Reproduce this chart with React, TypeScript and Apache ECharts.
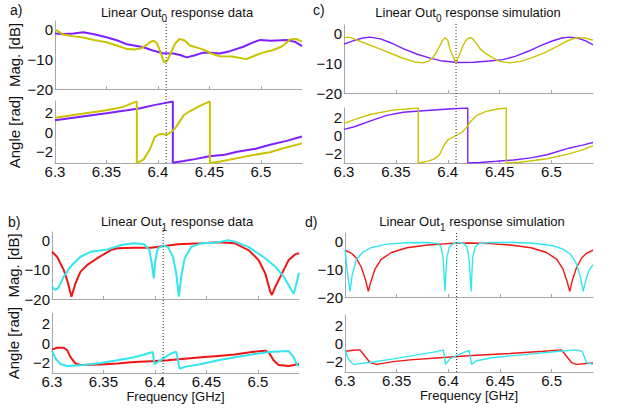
import React, { useEffect, useRef } from 'react';
import * as echarts from 'echarts';

// ---------- axis definitions ----------
const FREQ_MIN = 6.3;
const FREQ_MAX = 6.54;
const FREQ_TICKS = [6.3, 6.35, 6.4, 6.45, 6.5];
const MAG_MIN = -20;
const MAG_MAX = 3;
const MAG_TICKS = [-20, -10, 0];
const ANGLE_TICKS = [-2, 0, 2];
const MARKER_FREQ = 6.408;

// ---------- a) Linear Out0 response data ----------
const A_MAG_PURPLE = [[6.300,-1.2],[6.308,-1.4],[6.318,-1.2],[6.3275,-0.8],[6.338,-1.5],[6.35,-2.5],[6.36,-3.5],[6.37,-4.9],[6.386,-5.9],[6.395,-7.0],[6.405,-7.9],[6.415,-8.0],[6.4216,-8.5],[6.428,-9.3],[6.436,-8.6],[6.444,-7.7],[6.452,-7.7],[6.46,-8.0],[6.47,-7.2],[6.483,-5.7],[6.492,-4.3],[6.4994,-3.4],[6.51,-3.7],[6.525,-3.4],[6.533,-4.0],[6.54,-5.5]];
const A_MAG_YELLOW = [[6.300,0.2],[6.308,-1.6],[6.318,-2.2],[6.3275,-2.6],[6.338,-3.4],[6.35,-4.2],[6.36,-5.3],[6.37,-6.5],[6.378,-6.6],[6.384,-6.2],[6.389,-5.1],[6.393,-4.0],[6.396,-3.7],[6.399,-4.5],[6.402,-7.0],[6.406,-11.0],[6.409,-10.5],[6.413,-7.5],[6.417,-4.5],[6.421,-3.1],[6.426,-3.6],[6.431,-5.3],[6.443,-6.5],[6.452,-8.0],[6.46,-8.9],[6.472,-9.0],[6.486,-9.9],[6.495,-8.6],[6.502,-7.7],[6.512,-6.8],[6.52,-5.7],[6.529,-3.2],[6.535,-3.1],[6.54,-4.0]];
const A_ANG_PURPLE = [[6.300,1.2],[6.325,1.55],[6.35,1.9],[6.37,2.2],[6.383,2.4],[6.395,2.7],[6.405,2.9],[6.4145,3.08],[6.4145,-3.12],[6.425,-2.95],[6.436,-2.75],[6.45,-2.45],[6.465,-2.3],[6.477,-2.0],[6.495,-1.7],[6.509,-1.3],[6.525,-0.9],[6.54,-0.45]];
const A_ANG_YELLOW = [[6.300,1.45],[6.32,1.75],[6.35,2.2],[6.365,2.5],[6.3795,3.1],[6.3795,-3.13],[6.386,-2.8],[6.392,-1.8],[6.397,-0.5],[6.402,-0.2],[6.409,-0.25],[6.413,0.0],[6.417,0.4],[6.422,1.2],[6.425,1.7],[6.431,2.1],[6.438,2.5],[6.444,2.8],[6.4505,3.1],[6.4505,-3.13],[6.4605,-3.0],[6.475,-2.7],[6.4926,-2.33],[6.509,-2.06],[6.52,-1.7],[6.54,-1.15]];

// ---------- c) Linear Out0 response simulation ----------
const C_MAG_PURPLE = [[6.300,-3.5],[6.310,-2.2],[6.318,-1.4],[6.325,-1.1],[6.335,-1.7],[6.345,-3.0],[6.357,-5.0],[6.370,-6.8],[6.383,-8.2],[6.395,-9.2],[6.410,-9.7],[6.425,-9.6],[6.440,-9.2],[6.453,-8.7],[6.465,-7.6],[6.478,-5.8],[6.490,-3.9],[6.500,-2.5],[6.510,-1.4],[6.517,-1.1],[6.525,-1.4],[6.533,-2.4],[6.540,-3.7]];
const C_MAG_YELLOW = [[6.300,-1.2],[6.306,-1.2],[6.312,-2.0],[6.325,-3.8],[6.341,-6.0],[6.355,-8.0],[6.368,-9.5],[6.376,-9.8],[6.382,-9.2],[6.386,-7.8],[6.389,-6.3],[6.392,-4.3],[6.395,-2.2],[6.3975,-1.3],[6.400,-2.2],[6.402,-5.0],[6.405,-7.6],[6.408,-9.8],[6.411,-7.2],[6.414,-4.6],[6.417,-2.5],[6.4195,-1.5],[6.4225,-1.3],[6.425,-2.0],[6.428,-3.5],[6.431,-5.0],[6.437,-6.8],[6.443,-8.0],[6.450,-9.3],[6.460,-9.8],[6.470,-9.3],[6.480,-8.2],[6.493,-6.4],[6.505,-4.3],[6.515,-2.4],[6.524,-1.3],[6.532,-1.4],[6.540,-2.1]];
const C_ANG_PURPLE = [[6.300,0.7],[6.310,1.0],[6.325,1.64],[6.341,2.3],[6.357,2.65],[6.373,2.8],[6.390,2.95],[6.405,3.05],[6.4193,3.14],[6.4193,-3.14],[6.431,-3.08],[6.447,-2.95],[6.4634,-2.8],[6.48,-2.55],[6.4957,-2.2],[6.5166,-1.45],[6.53,-1.1],[6.54,-0.8]];
const C_ANG_YELLOW = [[6.300,1.38],[6.312,1.9],[6.325,2.4],[6.347,2.9],[6.3716,3.14],[6.3716,-3.14],[6.380,-2.95],[6.387,-2.7],[6.392,-2.2],[6.396,-1.2],[6.400,-0.5],[6.408,0.0],[6.414,0.4],[6.418,0.9],[6.422,1.6],[6.428,2.3],[6.437,2.75],[6.447,3.0],[6.4564,3.14],[6.4564,-3.14],[6.470,-3.05],[6.4957,-2.65],[6.5166,-2.1],[6.53,-1.65],[6.54,-1.15]];

// ---------- b) Linear Out1 response data ----------
const B_MAG_RED = [[6.300,-3.8],[6.3049,-5.5],[6.3114,-10],[6.3147,-13.5],[6.3189,-19.2],[6.3228,-14.6],[6.3277,-10.6],[6.3343,-8.3],[6.344,-6],[6.3571,-3.2],[6.3636,-2.6],[6.3799,-2.4],[6.3962,-2.4],[6.4093,-1.8],[6.4223,-1.2],[6.4452,-0.9],[6.4615,-0.5],[6.4778,-0.9],[6.4909,-3.2],[6.5007,-6.6],[6.5072,-11.2],[6.5121,-17.5],[6.5137,-18.6],[6.517,-15.8],[6.5235,-11.2],[6.53,-6.6],[6.5365,-4.6],[6.54,-4.3]];
const B_MAG_CYAN = [[6.300,-15.8],[6.3033,-16.9],[6.3065,-16],[6.3114,-12.3],[6.3179,-8.9],[6.3277,-5.5],[6.3375,-3.8],[6.3538,-3.0],[6.3669,-1.5],[6.3799,-0.9],[6.3897,-1.2],[6.3946,-3.2],[6.3969,-7.8],[6.3989,-12.9],[6.4005,-6.6],[6.4028,-2.6],[6.4077,-1.7],[6.4126,-2.1],[6.4175,-5.5],[6.4207,-11.2],[6.4233,-19.2],[6.4256,-12.3],[6.4289,-6],[6.4354,-2.1],[6.4452,-0.9],[6.4582,-0.7],[6.4713,0.2],[6.4778,-0.3],[6.4909,-2.1],[6.5072,-6],[6.517,-8.9],[6.5251,-12.3],[6.5326,-16.9],[6.5349,-18.2],[6.5382,-13.7],[6.54,-11]];
const B_ANG_RED = [[6.300,-0.7],[6.3049,-0.5],[6.3114,-0.5],[6.3147,-0.75],[6.3179,-1.45],[6.3228,-2.15],[6.3277,-2.3],[6.3473,-2.25],[6.3636,-2.15],[6.3799,-2.0],[6.3962,-1.9],[6.4126,-1.8],[6.4289,-1.65],[6.4452,-1.5],[6.4615,-1.35],[6.4778,-1.2],[6.4941,-0.95],[6.5072,-0.8],[6.5104,-0.95],[6.5153,-1.8],[6.5202,-2.3],[6.530,-2.4],[6.54,-2.2]];
const B_ANG_CYAN = [[6.300,-0.8],[6.3033,-1.6],[6.3082,-2.2],[6.3147,-2.4],[6.331,-2.3],[6.3473,-2.1],[6.3636,-1.8],[6.3799,-1.5],[6.393,-1.1],[6.3979,-0.95],[6.3995,-2.2],[6.4028,-2.0],[6.4093,-1.5],[6.4158,-1.1],[6.4207,-0.9],[6.424,-2.7],[6.4289,-2.5],[6.4452,-2.2],[6.4615,-1.8],[6.4778,-1.5],[6.4941,-1.2],[6.5104,-0.95],[6.53,-0.85],[6.5349,-1.5],[6.5382,-2.3],[6.54,-2.45]];

// ---------- d) Linear Out1 response simulation ----------
const D_MAG_RED = [[6.300,-3.2],[6.306,-4.2],[6.311,-6.0],[6.316,-9.5],[6.320,-14],[6.3226,-18],[6.325,-14.5],[6.329,-10],[6.335,-6.5],[6.345,-4.0],[6.36,-2.3],[6.38,-1.3],[6.40,-0.8],[6.42,-0.6],[6.44,-0.8],[6.46,-1.3],[6.48,-2.3],[6.495,-4.0],[6.505,-6.5],[6.511,-10],[6.515,-14.5],[6.5175,-18],[6.520,-14],[6.524,-9.5],[6.529,-6.0],[6.534,-4.2],[6.540,-3.2]];
const D_MAG_CYAN = [[6.300,-3.0],[6.302,-10],[6.3048,-18],[6.307,-12],[6.311,-6.5],[6.317,-4.0],[6.325,-2.3],[6.34,-1.0],[6.36,-0.5],[6.38,-0.4],[6.39,-0.8],[6.393,-2],[6.395,-6],[6.3967,-18],[6.3985,-6],[6.401,-2],[6.405,-0.8],[6.41,-0.4],[6.415,-0.8],[6.418,-2],[6.420,-6],[6.422,-18],[6.4235,-6],[6.426,-2],[6.43,-0.8],[6.44,-0.4],[6.46,-0.4],[6.48,-0.6],[6.50,-1.5],[6.51,-2.6],[6.518,-4.5],[6.524,-8],[6.528,-13],[6.5305,-18],[6.533,-14],[6.536,-10.5],[6.540,-8.4]];
const D_ANG_RED = [[6.300,-0.85],[6.308,-0.75],[6.3145,-0.7],[6.3193,-1.4],[6.3242,-2.1],[6.3306,-2.3],[6.3467,-2.0],[6.3629,-1.8],[6.3951,-1.55],[6.4273,-1.3],[6.4596,-1.1],[6.4918,-0.85],[6.5095,-0.7],[6.5144,-1.4],[6.5192,-2.1],[6.524,-2.3],[6.54,-2.15]];
const D_ANG_CYAN = [[6.300,-0.7],[6.3032,-1.7],[6.3081,-2.3],[6.3242,-2.1],[6.3467,-1.7],[6.3725,-1.2],[6.3887,-0.9],[6.3951,-0.7],[6.3974,-2.3],[6.4015,-1.7],[6.407,-1.4],[6.4144,-1.0],[6.4202,-0.75],[6.4225,-2.3],[6.4273,-1.9],[6.4435,-1.55],[6.4757,-1.2],[6.5079,-0.85],[6.524,-0.7],[6.5298,-0.9],[6.5337,-2.1],[6.54,-2.3]];

const PURPLE = '#7f1fff';
const YELLOW = '#c9c300';
const RED = '#f01616';
const CYAN = '#33e6ee';
const AXIS = '#a8a8a8';
const TEXT = '#111111';
const FONT = 'Liberation Sans, Arial, Helvetica, sans-serif';
const TICK_FS = 15;
const NAME_FS = 15;

const PANELS = [
  { left: 55, width: 247, magTop: 21, magH: 68, angTop: 101, angH: 62, markTop: 19,
    mag: [[A_MAG_PURPLE, PURPLE], [A_MAG_YELLOW, YELLOW]], ang: [[A_ANG_PURPLE, PURPLE], [A_ANG_YELLOW, YELLOW]],
    lw: 2, yNames: true, xName: false, nameGap: 33 },
  { left: 344, width: 249, magTop: 25, magH: 68, angTop: 108, angH: 55, markTop: 22,
    mag: [[C_MAG_PURPLE, PURPLE], [C_MAG_YELLOW, YELLOW]], ang: [[C_ANG_PURPLE, PURPLE], [C_ANG_YELLOW, YELLOW]],
    lw: 1.4, yNames: false, xName: false, nameGap: 0 },
  { left: 52, width: 247, magTop: 232, magH: 67, angTop: 313, angH: 60, markTop: 228,
    mag: [[B_MAG_RED, RED], [B_MAG_CYAN, CYAN]], ang: [[B_ANG_RED, RED], [B_ANG_CYAN, CYAN]],
    lw: 2, yNames: true, xName: true, nameGap: 31 },
  { left: 345, width: 248, magTop: 233, magH: 64, angTop: 315, angH: 57, markTop: 231,
    mag: [[D_MAG_RED, RED], [D_MAG_CYAN, CYAN]], ang: [[D_ANG_RED, RED], [D_ANG_CYAN, CYAN]],
    lw: 1.4, yNames: false, xName: true, nameGap: 0 },
];

const TITLES = [
  { text: 'Linear Out{s|0} response data', x: 177, y: 12 },
  { text: 'Linear Out{s|0} response simulation', x: 468, y: 12 },
  { text: 'Linear Out{s|1} response data', x: 177, y: 221 },
  { text: 'Linear Out{s|1} response simulation', x: 472, y: 221 },
];
const LETTERS = [
  { text: 'a)', x: 10, y: 10 },
  { text: 'c)', x: 313, y: 10 },
  { text: 'b)', x: 8, y: 222 },
  { text: 'd)', x: 305, y: 222 },
];

const fmtNum = (v: number) => String(Math.round(v * 100) / 100).replace('-', '\u2212');

function buildOption() {
  const grid: any[] = [];
  const xAxis: any[] = [];
  const yAxis: any[] = [];
  const series: any[] = [];

  const xBase = (gi: number, showLabels: boolean, name?: string) => ({
    gridIndex: gi, type: 'value', min: FREQ_MIN, max: FREQ_MAX,
    axisLine: { show: true, onZero: false, lineStyle: { color: AXIS, width: 1 } },
    axisTick: { show: true, inside: true, length: 3, customValues: FREQ_TICKS, lineStyle: { color: AXIS } },
    axisLabel: { show: showLabels, customValues: FREQ_TICKS, margin: 1, fontSize: TICK_FS, fontFamily: FONT, color: TEXT, formatter: fmtNum },
    splitLine: { show: false },
    name: name || '', nameLocation: 'middle', nameGap: 12,
    nameTextStyle: { fontSize: 13, fontFamily: FONT, color: TEXT },
  });
  const yBase = (gi: number, min: number, max: number, ticks: number[], name: string, gap: number) => ({
    gridIndex: gi, type: 'value', min, max,
    axisLine: { show: true, onZero: false, lineStyle: { color: AXIS, width: 1 } },
    axisTick: { show: false, customValues: ticks },
    axisLabel: { show: true, customValues: ticks, margin: 2, fontSize: TICK_FS, fontFamily: FONT, color: TEXT, formatter: fmtNum },
    splitLine: { show: false },
    name, nameLocation: 'middle', nameRotate: 90, nameGap: gap,
    nameTextStyle: { fontSize: NAME_FS, fontFamily: FONT, color: TEXT },
  });

  PANELS.forEach((p) => {
    const gMag = grid.length;
    grid.push({ left: p.left, top: p.magTop, width: p.width, height: p.magH });
    xAxis.push(xBase(gMag, false));
    yAxis.push(yBase(gMag, MAG_MIN, MAG_MAX, MAG_TICKS, p.yNames ? 'Mag. [dB]' : '', p.nameGap));
    p.mag.forEach(([data, color]: any) => {
      series.push({ type: 'line', xAxisIndex: gMag, yAxisIndex: gMag, data, symbol: 'none', clip: true,
        lineStyle: { color, width: p.lw }, itemStyle: { color } });
    });

    const gAng = grid.length;
    grid.push({ left: p.left, top: p.angTop, width: p.width, height: p.angH });
    xAxis.push(xBase(gAng, true, p.xName ? 'Frequency [GHz]' : ''));
    yAxis.push(yBase(gAng, -Math.PI, Math.PI, ANGLE_TICKS, p.yNames ? 'Angle [rad]' : '', p.nameGap));
    p.ang.forEach(([data, color]: any) => {
      series.push({ type: 'line', xAxisIndex: gAng, yAxisIndex: gAng, data, symbol: 'none', clip: true,
        lineStyle: { color, width: p.lw }, itemStyle: { color } });
    });

    const gMark = grid.length;
    grid.push({ left: p.left, top: p.markTop, width: p.width, height: p.angTop + p.angH - p.markTop });
    xAxis.push({ gridIndex: gMark, type: 'value', min: FREQ_MIN, max: FREQ_MAX, show: false });
    yAxis.push({ gridIndex: gMark, type: 'value', min: 0, max: 1, show: false });
    series.push({ type: 'line', xAxisIndex: gMark, yAxisIndex: gMark, silent: true, symbol: 'none',
      data: [[MARKER_FREQ, 0], [MARKER_FREQ, 1]], z: 5,
      lineStyle: { color: '#333333', width: 1, type: [1, 2] } });
  });

  const graphic: any[] = [];
  TITLES.forEach((t) => {
    graphic.push({ type: 'text', x: t.x, y: t.y, silent: true,
      style: { text: t.text, fontSize: 13, fontFamily: FONT, fill: TEXT, align: 'center', verticalAlign: 'middle',
        rich: { s: { fontSize: 10, fontFamily: FONT, fill: TEXT, verticalAlign: 'top', padding: [12, 0, 0, 0] } } } });
  });
  LETTERS.forEach((t) => {
    graphic.push({ type: 'text', x: t.x, y: t.y, silent: true,
      style: { text: t.text, fontSize: 14, fontFamily: FONT, fill: TEXT, align: 'left', verticalAlign: 'middle' } });
  });

  return { animation: false, backgroundColor: '#ffffff', grid, xAxis, yAxis, series, graphic };
}

export default function App() {
  const ref = useRef<HTMLDivElement>(null);
  useEffect(() => {
    if (!ref.current) return;
    const chart = echarts.init(ref.current, null, { renderer: 'svg' });
    chart.setOption(buildOption() as any);
    return () => chart.dispose();
  }, []);
  return <div ref={ref} style={{ position: 'absolute', left: 0, top: 0, width: 623, height: 413 }} />;
}
